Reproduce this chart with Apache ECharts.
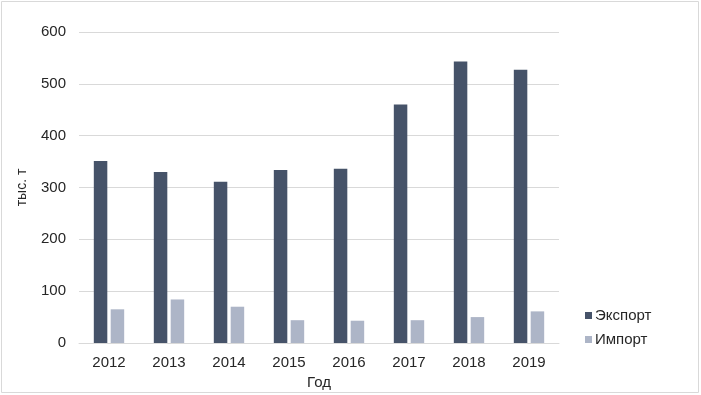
<!DOCTYPE html>
<html><head><meta charset="utf-8">
<script src="https://cdn.jsdelivr.net/npm/echarts@6/dist/echarts.min.js"></script>
<style>html,body{margin:0;padding:0;background:#fff}#c{width:701px;height:395px}</style>
</head><body><div id="c"></div>
<script>
const categories = ['2012','2013','2014','2015','2016','2017','2018','2019'];
const exportVals = [351, 330, 311, 334, 336, 460, 543, 527];
const importVals = [65, 84, 70, 44, 43, 44, 50, 61];
const yTicks = {min: 0, max: 600, interval: 100};
const seriesNames = ['Экспорт', 'Импорт'];

const chart = echarts.init(document.getElementById('c'), null, {renderer: 'canvas'});
const font = '"Liberation Sans", Arial, sans-serif';
const txt = '#262626';
chart.setOption({
  animation: false,
  textStyle: {fontFamily: font},
  graphic: [{type: 'rect', shape: {x: 1.5, y: 1.5, width: 697, height: 391}, style: {fill: null, stroke: '#d9d9d9', lineWidth: 1}}],
  grid: {left: 79, right: 142, top: 32, bottom: 51},
  legend: {
    orient: 'vertical', left: 580, top: 303, itemWidth: 7, itemHeight: 7, itemGap: 9,
    icon: 'rect', textStyle: {fontSize: 15, color: txt, fontFamily: font, padding: [0, 0, 0, -2]},
    data: seriesNames
  },
  xAxis: {
    type: 'category', data: categories, name: 'Год', nameLocation: 'middle', nameGap: 32,
    nameTextStyle: {fontSize: 15, color: txt},
    axisLine: {lineStyle: {color: '#d9d9d9'}}, axisTick: {show: false},
    axisLabel: {fontSize: 15, color: txt, margin: 12}
  },
  yAxis: {
    type: 'value', min: yTicks.min, max: yTicks.max, interval: yTicks.interval,
    name: 'тыс. т', nameLocation: 'middle', nameGap: 50, nameRotate: 90,
    nameTextStyle: {fontSize: 14, color: txt},
    axisLine: {show: false}, axisTick: {show: false},
    axisLabel: {fontSize: 15, color: txt, margin: 13},
    splitLine: {lineStyle: {color: '#d9d9d9'}}
  },
  series: [
    {name: seriesNames[0], type: 'bar', data: exportVals, barWidth: 13.5, barGap: '25%', itemStyle: {color: '#465369'}},
    {name: seriesNames[1], type: 'bar', data: importVals, barWidth: 13.5, itemStyle: {color: '#adb5c7'}}
  ]
});
</script></body></html>
